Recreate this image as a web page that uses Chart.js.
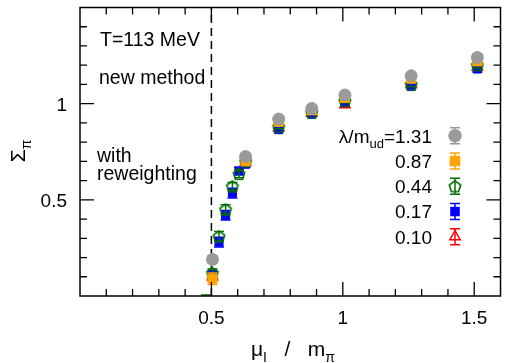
<!DOCTYPE html>
<html>
<head>
<meta charset="utf-8">
<script src="https://cdn.jsdelivr.net/npm/chart.js@4/dist/chart.umd.min.js"></script>
<style>
  html, body { margin: 0; padding: 0; background: #fff; }
  #wrap { width: 508px; height: 363px; }
</style>
</head>
<body>
<div id="wrap"><canvas id="sigmaChart"></canvas></div>
<script>
// mu_I / m_pi values
var xFull = [0.504, 0.630, 0.756, 0.882, 1.008, 1.260, 1.512];
var xScan = [0.479, 0.504, 0.529, 0.554, 0.580, 0.605, 0.630, 0.756, 0.882, 1.008, 1.260, 1.512];
var xBlue = [0.504, 0.529, 0.554, 0.580, 0.605, 0.630, 0.756, 0.882, 1.008, 1.260, 1.512];

// Sigma_pi for each lambda/m_ud
var lambdaLabels = ['1.31', '0.87', '0.44', '0.17', '0.10'];
var sGray   = [0.19, 0.725, 0.92, 0.975, 1.045, 1.145, 1.24];
var eGray   = [0.02, 0.015, 0.01, 0.01, 0.01, 0.012, 0.015];
var sOrange = [0.09, 0.70, 0.905, 0.965, 1.03, 1.13, 1.22];
var eOrange = [0.03, 0.015, 0.01, 0.01, 0.01, 0.012, 0.015];
var sGreen  = [-0.025, 0.12, 0.31, 0.45, 0.57, 0.635, 0.70, 0.88, 0.955, 1.015, 1.10, 1.20];
var eGreen  = [0.03, 0.02, 0.025, 0.025, 0.02, 0.02, 0.015, 0.01, 0.01, 0.01, 0.012, 0.015];
var sBlue   = [0.11, 0.28, 0.42, 0.535, 0.65, 0.685, 0.865, 0.945, 1.005, 1.09, 1.18];
var eBlue   = [0.02, 0.025, 0.025, 0.025, 0.02, 0.015, 0.01, 0.01, 0.01, 0.012, 0.015];
var sRed    = [0.10, 0.695, 0.875, 0.95, 0.995, 1.10, 1.19];
var eRed    = [0.02, 0.015, 0.01, 0.01, 0.01, 0.012, 0.015];

var xTickLabels = [0.5, 1, 1.5];
var yTickLabels = [0.5, 1];

var FONT = "'Liberation Sans', Arial, sans-serif";

function points(xs, ys, es) {
    return xs.map(function (x, i) {
        return { x: x, y: ys[i], err: es[i] };
    });
}

// open pentagon marker
var pentagon = document.createElement('canvas');
pentagon.width = 16;
pentagon.height = 16;
(function () {
    var c = pentagon.getContext('2d');
    c.strokeStyle = '#006e00';
    c.lineWidth = 1.6;
    c.beginPath();
    for (var k = 0; k < 5; k++) {
        var a = -Math.PI / 2 + k * 2 * Math.PI / 5;
        var px = 8 + 6 * Math.cos(a), py = 8.6 + 6 * Math.sin(a);
        if (k === 0) c.moveTo(px, py); else c.lineTo(px, py);
    }
    c.closePath();
    c.stroke();
})();

var series = [
    { label: lambdaLabels[0], data: points(xFull, sGray, eGray), color: '#9a9a9a', pointStyle: 'circle', pointRadius: 6, fill: true },
    { label: lambdaLabels[1], data: points(xFull, sOrange, eOrange), color: '#ffa500', pointStyle: 'rect', pointRadius: 6.4, fill: true },
    { label: lambdaLabels[2], data: points(xScan, sGreen, eGreen), color: '#006e00', pointStyle: pentagon, pointRadius: 6, fill: false },
    { label: lambdaLabels[3], data: points(xBlue, sBlue, eBlue), color: '#0000ff', pointStyle: 'rect', pointRadius: 5.7, fill: true },
    { label: lambdaLabels[4], data: points(xFull, sRed, eRed), color: '#ff0000', pointStyle: 'triangle', pointRadius: 6, fill: false }
];

function drawErrorBar(ctx, x, yLo, yHi) {
    ctx.beginPath();
    ctx.moveTo(x, yLo); ctx.lineTo(x, yHi);
    ctx.moveTo(x - 5, yLo); ctx.lineTo(x + 5, yLo);
    ctx.moveTo(x - 5, yHi); ctx.lineTo(x + 5, yHi);
    ctx.stroke();
}

function drawSubText(ctx, parts, x, y, align, size) {
    // parts: [text, isSub]
    size = size || 19;
    var sub = Math.round(size * 0.68);
    var widths = parts.map(function (p) {
        ctx.font = (p[1] ? sub : size) + 'px ' + FONT;
        return ctx.measureText(p[0]).width;
    });
    var total = widths.reduce(function (a, b) { return a + b; }, 0);
    var cx = align === 'right' ? x - total : align === 'center' ? x - total / 2 : x;
    ctx.textAlign = 'left';
    ctx.textBaseline = 'alphabetic';
    parts.forEach(function (p, i) {
        ctx.font = (p[1] ? sub : size) + 'px ' + FONT;
        ctx.fillText(p[0], cx, y + (p[1] ? size * 0.27 : 0));
        cx += widths[i];
    });
}

var extras = {
    id: 'extras',
    beforeDatasetsDraw: function (chart) {
        var ctx = chart.ctx, a = chart.chartArea;
        var x = chart.scales.x.getPixelForValue(0.5);
        ctx.save();
        ctx.strokeStyle = '#000';
        ctx.lineWidth = 1.5;
        ctx.setLineDash([8, 5]);
        ctx.beginPath();
        ctx.moveTo(x, a.bottom);
        ctx.lineTo(x, a.top);
        ctx.stroke();
        ctx.restore();
    },
    beforeDatasetDraw: function (chart, args) {
        var ctx = chart.ctx, a = chart.chartArea;
        var ds = chart.data.datasets[args.index];
        var sx = chart.scales.x, sy = chart.scales.y;
        ctx.save();
        ctx.beginPath();
        ctx.rect(a.left, a.top, a.right - a.left, a.bottom - a.top);
        ctx.clip();
        ctx.strokeStyle = ds.borderColor;
        ctx.lineWidth = 1.5;
        ds.data.forEach(function (p) {
            drawErrorBar(ctx, sx.getPixelForValue(p.x), sy.getPixelForValue(p.y - p.err), sy.getPixelForValue(p.y + p.err));
        });
        ctx.restore();
    },
    afterDraw: function (chart) {
        var ctx = chart.ctx, a = chart.chartArea;
        var sx = chart.scales.x, sy = chart.scales.y;
        ctx.save();

        // frame and inward ticks on all four sides
        ctx.strokeStyle = '#000';
        ctx.lineWidth = 1.5;
        ctx.strokeRect(a.left, a.top, a.right - a.left, a.bottom - a.top);
        ctx.lineWidth = 1.3;
        ctx.beginPath();
        for (var i = 1; i <= 15; i++) {
            var px = sx.getPixelForValue(i / 10);
            var len = (i % 5 === 0) ? 14 : 7;
            ctx.moveTo(px, a.bottom); ctx.lineTo(px, a.bottom - len);
            ctx.moveTo(px, a.top); ctx.lineTo(px, a.top + len);
        }
        for (var j = 1; j <= 14; j++) {
            var py = sy.getPixelForValue(j / 10);
            var l2 = (j % 5 === 0) ? 14 : 7;
            ctx.moveTo(a.left, py); ctx.lineTo(a.left + l2, py);
            ctx.moveTo(a.right, py); ctx.lineTo(a.right - l2, py);
        }
        ctx.stroke();

        // tick labels
        ctx.fillStyle = '#000';
        ctx.font = '19px ' + FONT;
        ctx.textAlign = 'center';
        ctx.textBaseline = 'alphabetic';
        xTickLabels.forEach(function (v) {
            ctx.fillText(String(v), sx.getPixelForValue(v), a.bottom + 28);
        });
        ctx.textAlign = 'right';
        yTickLabels.forEach(function (v) {
            ctx.fillText(String(v), a.left - 13, sy.getPixelForValue(v) + 7);
        });

        // annotations
        ctx.textAlign = 'left';
        ctx.font = '19.5px ' + FONT;
        ctx.fillText('T=113 MeV', 100, 46);
        ctx.fillText('new method', 99, 84);
        ctx.fillText('with', 97, 162);
        ctx.fillText('reweighting', 97, 180);

        // legend
        chart.data.datasets.forEach(function (ds, k) {
            var ly = 135.7 + 25.25 * k;
            ctx.fillStyle = '#000';
            if (k === 0) {
                drawSubText(ctx, [['\u03bb/m', false], ['ud', true], ['=' + ds.label, false]], 432, ly + 7, 'right');
            } else {
                drawSubText(ctx, [[ds.label, false]], 432, ly + 7, 'right');
            }
            var mx = 455;
            ctx.strokeStyle = ds.borderColor;
            ctx.lineWidth = 1.5;
            drawErrorBar(ctx, mx, ly - 8, ly + 8);
            ctx.fillStyle = ds.backgroundColor;
            Chart.helpers.drawPoint(ctx, {
                pointStyle: ds.pointStyle, radius: ds.pointRadius, rotation: 0, borderWidth: ds.borderWidth
            }, mx, ly);
        });

        // axis titles
        ctx.fillStyle = '#000';
        drawSubText(ctx, [['\u03bc', false], ['I', true], ['   /   m', false], ['\u03c0', true]], 293, 356, 'center', 21);
        ctx.translate(25, 151);
        ctx.rotate(-Math.PI / 2);
        drawSubText(ctx, [['\u03a3', false], ['\u03c0', true]], 0, 0, 'center', 21);
        ctx.restore();
    }
};

var ctx = document.getElementById('sigmaChart').getContext('2d');

var chart = new Chart(ctx, {
    type: 'scatter',
    data: {
        datasets: series.map(function (s) {
            return {
                label: s.label,
                data: s.data,
                pointStyle: s.pointStyle,
                pointRadius: s.pointRadius,
                borderColor: s.color,
                backgroundColor: s.fill ? s.color : 'rgba(0,0,0,0)',
                borderWidth: s.fill ? 1 : 1.5,
                clip: 0
            };
        })
    },
    options: {
        responsive: true,
        maintainAspectRatio: false,
        animation: false,
        layout: { padding: { top: 5, right: 1, left: 0, bottom: 0 } },
        plugins: {
            legend: { display: false },
            tooltip: { enabled: false }
        },
        scales: {
            x: {
                type: 'linear',
                min: 0,
                max: 1.6,
                afterFit: function (scale) {
                    scale.height = 67;
                    scale.paddingLeft = 0;
                    scale.paddingRight = 0;
                },
                grid: { display: false, drawTicks: false },
                border: { display: false },
                ticks: { display: false, stepSize: 0.5 }
            },
            y: {
                type: 'linear',
                min: 0,
                max: 1.5,
                afterFit: function (scale) {
                    scale.width = 80;
                    scale.paddingTop = 0;
                    scale.paddingBottom = 0;
                },
                grid: { display: false, drawTicks: false },
                border: { display: false },
                ticks: { display: false, stepSize: 0.5 }
            }
        }
    },
    plugins: [extras]
});
</script>
</body>
</html>
